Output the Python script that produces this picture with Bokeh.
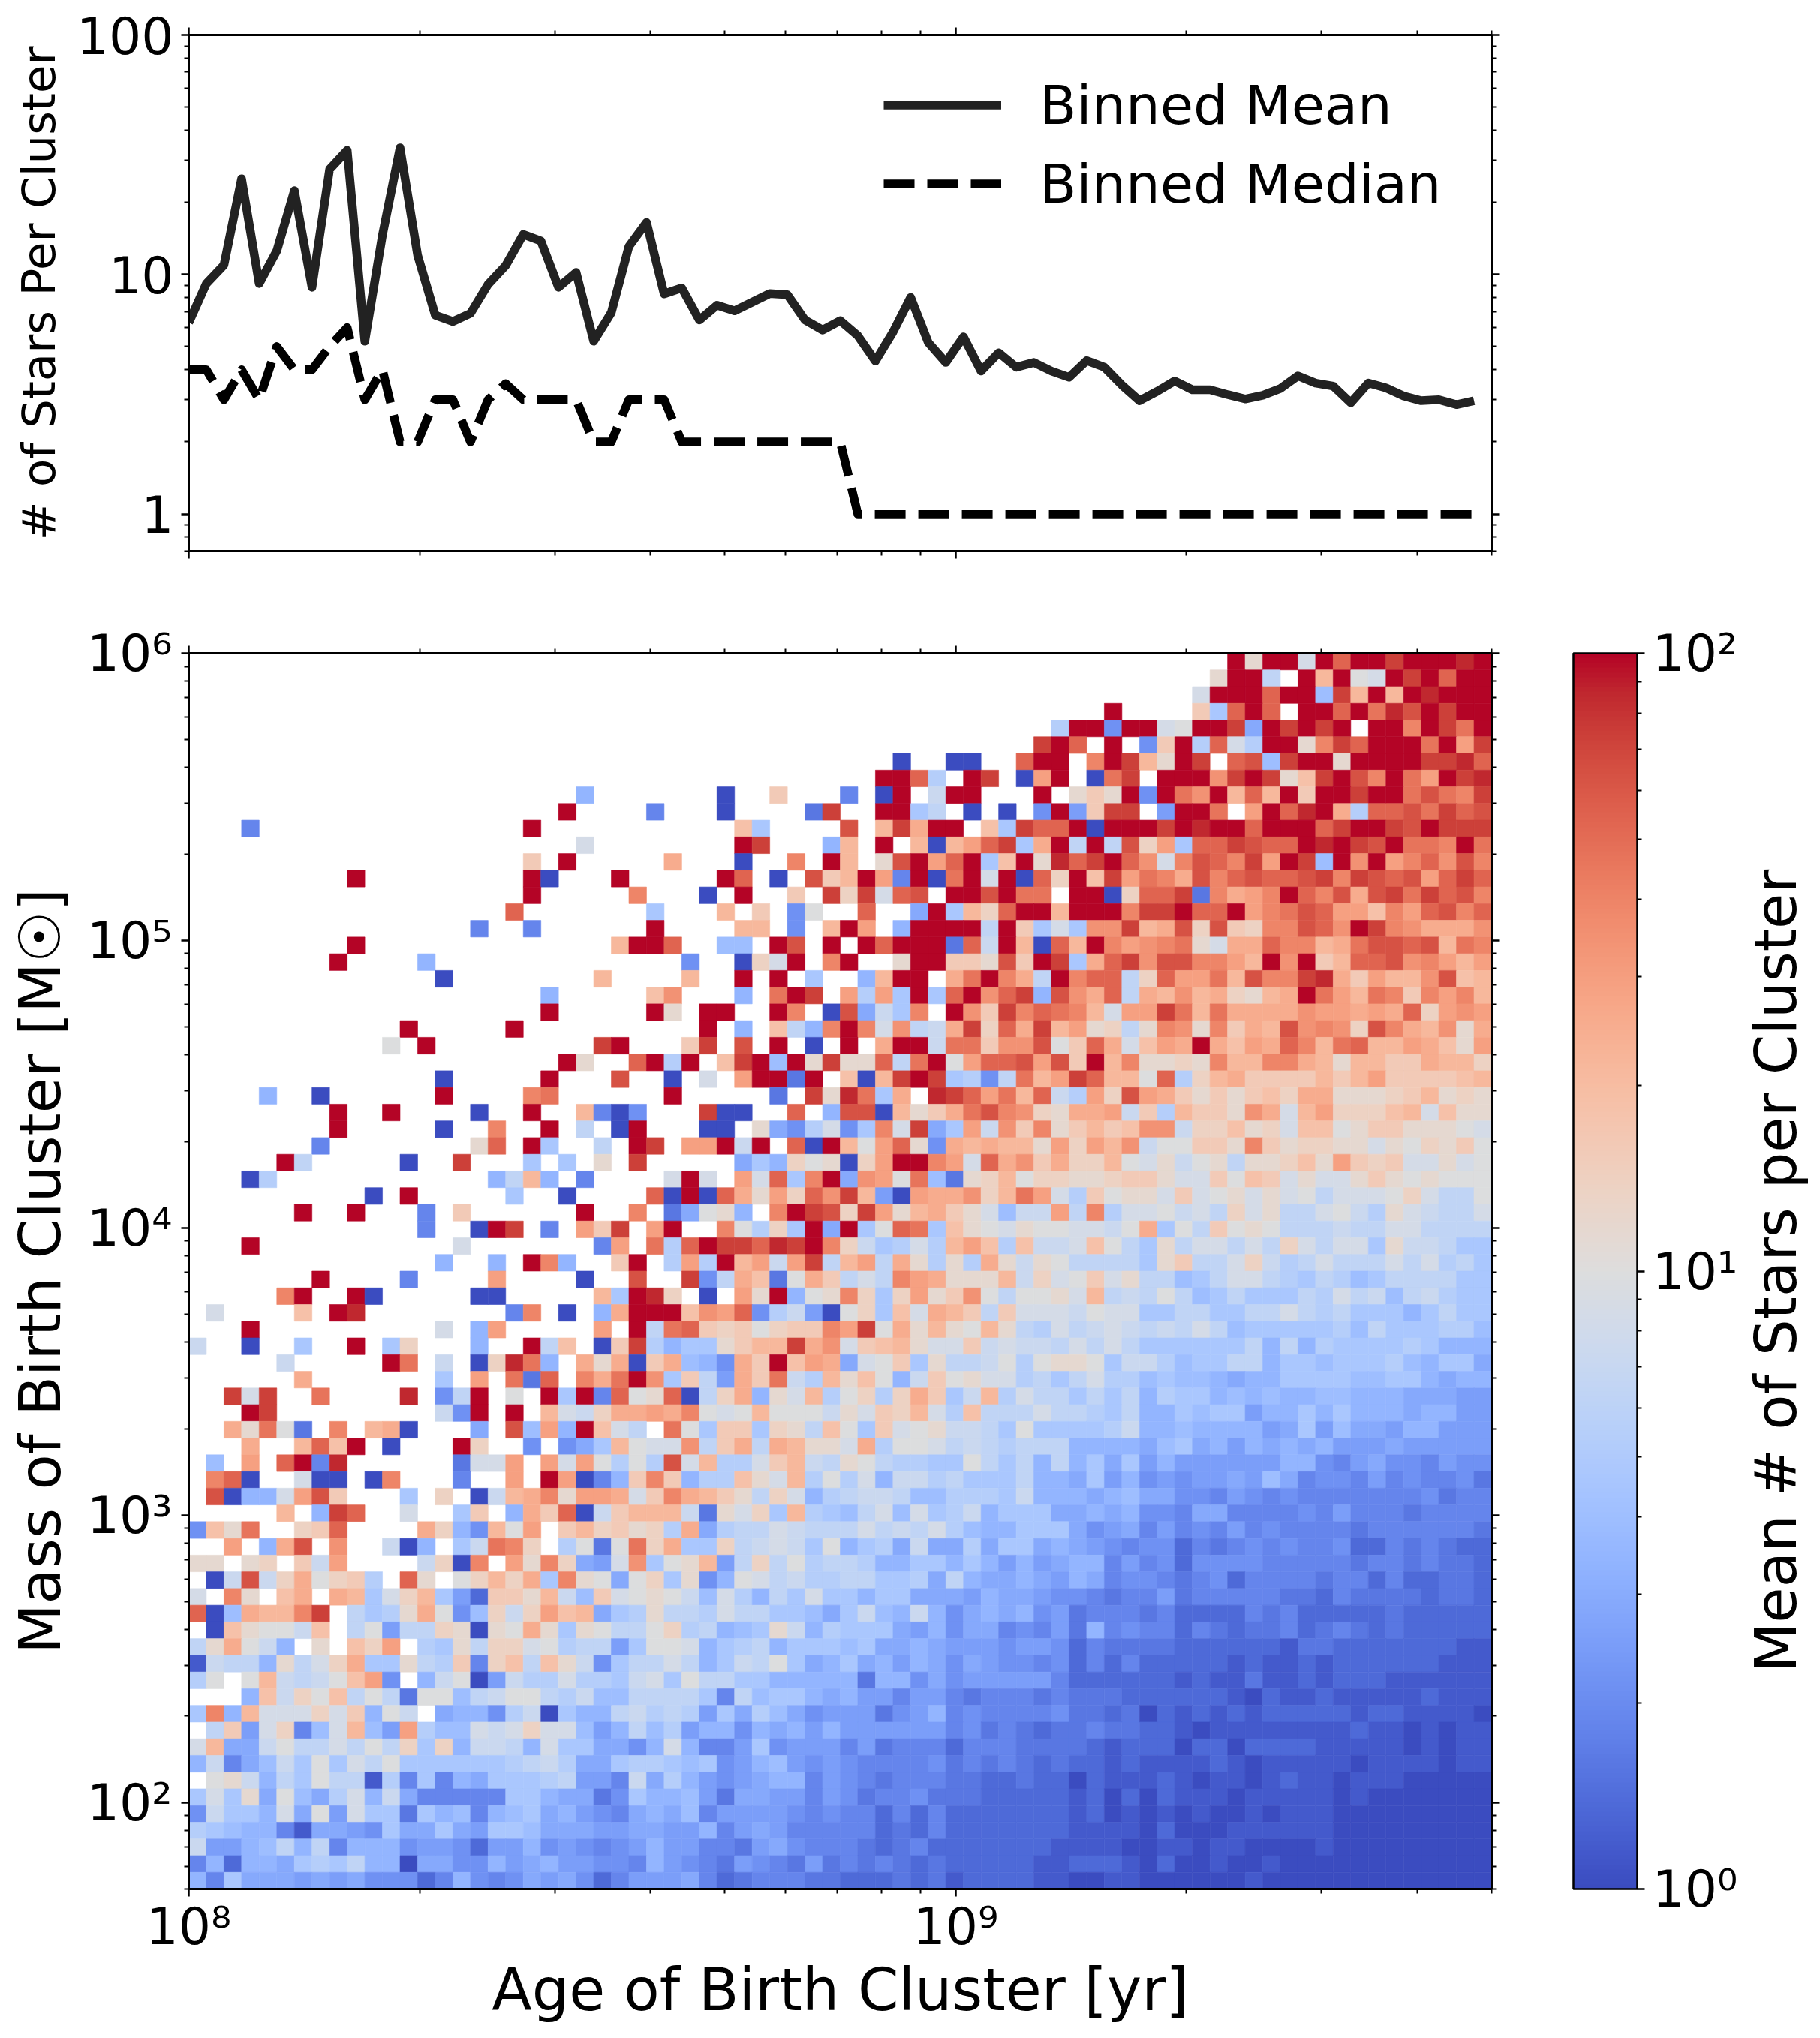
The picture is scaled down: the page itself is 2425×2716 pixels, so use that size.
import numpy as np
from bokeh.core.properties import value
from bokeh.embed import file_html
from bokeh.layouts import column, row
from bokeh.models import (ColorBar, ColumnDataSource, CustomJSTickFormatter, FixedTicker, Legend,
                          LegendItem, LogAxis, LogColorMapper, Range1d)
from bokeh.plotting import figure
from bokeh.resources import INLINE

# binned mean / median number of stars per cluster, one point per age bin
binned_mean = [6.29, 9.16, 10.95, 25.1, 9.16, 12.55, 22.4, 8.84, 27.5, 33.0, 5.26, 14.6, 33.8, 12.0, 6.76, 6.36,
               6.88, 9.09, 10.9, 14.7, 13.8, 8.84, 10.2, 5.26, 6.93, 13.1, 16.5, 8.29, 8.78, 6.45, 7.44, 7.05,
               7.66, 8.32, 8.23, 6.45, 5.86, 6.41, 5.55, 4.35, 5.75, 8.02, 5.20, 4.29, 5.49, 3.95, 4.71, 4.10,
               4.29, 3.95, 3.72, 4.37, 4.10, 3.45, 2.97, 3.25, 3.59, 3.30, 3.30, 3.15, 3.02, 3.13, 3.34, 3.77,
               3.52, 3.42, 2.91, 3.52, 3.36, 3.11, 2.97, 3.00, 2.86, 2.97]
binned_median = [4, 4, 3, 4, 3, 5, 4, 4, 5, 6, 3, 4, 2, 2, 3, 3, 2, 3, 3.5, 3, 3, 3, 3, 2, 2, 3, 3, 3,
                 2, 2, 2, 2, 2, 2, 2, 2, 2, 2,
                 1, 1, 1, 1, 1, 1, 1, 1, 1, 1, 1, 1, 1, 1, 1, 1, 1, 1, 1, 1, 1, 1, 1, 1, 1, 1, 1, 1, 1, 1, 1, 1, 1, 1, 1, 1]

# heatmap cells, top row first, "." is an empty bin, other characters are steps of log10(mean stars)
cell_levels = "0123456789abcdefghijklmnopqrstu"
left_cols = [
    "", "", "", "", "", "", "", "",
    "......................8",
    ".....................u",
    "...4...............u",
    "......................e",
    "...................i.u",
    ".........u.........u0...u",
    "...................u",
    "..................q",
    "................4..4",
    ".........u..............k",
    "........u....8",
    "..............0........k",
    "....................8",
    "....................u",
    "............u.....u",
    "...........f.u.........su",
    ".....................ug",
    "..............0.....u...r",
    "....8..0......u....op....",
    "........u..u....0..u..k40",
    "........u.....0..o..u.c.0",
    ".......4........gq.ua..c.",
    ".....uc.....0..s...a.a.g.",
    "...0b............8ck8.4..",
    "..........0.u.....a..0...",
    "......u..u...4.i......u..",
    ".............4..0us.4.mis",
    "...u...........e.......4m",
    "..............8..8.uo8..i",
    ".......u....4....m....0..",
    ".....ou..u0.....00.....ka",
    ".e....j.ut........4o.0.8l",
    "...u..........e.8m.....m.",
    "d..0..a..u.ah...8..ucj.0i",
    ".....d.....up.d.0htp8.lgl",
    "......l.......a.m.p3q.olp",
    "..ses..p....t.5cu.f.uau4q",
    "...us.........d5u.u.kedhl",
    "..lgpf3.o.kl0...7.r9m8uje",
    "...l..kqju.0...uh..5.57ak",
    ".9.m.qu4t......3eem.memfb",
    ".oq0..e00.0o...4..m.um048",
    ".r088emri...a.h.0dklogmml",
    ".....k.8sq..e..ai.8liq0di",
    "5jgp..hiq....lh85kfm.ikhi",
    "..m.8lr.n..d08.adpoh.bf3f",
    "gg.gh.idm....dh0o.mgoh76e",
    ".0drdhlfhib.qg.fhkhlaogf7",
    "e.og.jl.lkaehka62iigkd9ie",
    "q09lkkos.cabglf59hdhmjk7a",
    ".0jgffdj.cf6cchg0gflgagfc",
    "cglfd8.g.jhm.bagchhefbcc6",
    "1dcc8gcehlaagcbi4hjcjgd5a",
    "bf.fkdcdfjm5.8df06dbbebba",
    "...8jdhfjcfc3ff9cdffcbd99",
    "ao8keeehei8fd.7885bd0a88c",
    ".ci6eh49ek96mb99edehee968",
    "ek77dfccecfchah8ddc8eaa77",
    "8d479dafaecfaaaaaabcdb77a",
    ".fgd8cafcc1b4a487aaabc664",
    "aeag7f97be8d744444aa87735",
    "5daa8e7f6eaa3a89489a78654",
    "ba988417765a77a76aa977766",
    "d6689c8c488856652668" + "56545",
    "482887abac8807755867" + "86655",
    "84a7776767555248545" + "7" + "67524",
]
mid_cols = [
    "", "", "", "", "",
    ".......................s",
    "...............0..00..qu",
    "..............uuqb.us.0m",
    ".....0..i...4.0u.duu...u",
    ".4...0....3s..uuac.0.0.5",
    "......ja....r.ksluu.jasq",
    "......us...8k.u.k0kmqsal",
    "..l...0..o.uk.grumquajug",
    ".....uq.0.rikum4u0pueu0q",
    "o...0.u..i.shseqr.uurupp",
    ".a...k.i.5f..q..7uakhquu",
    ".u....kk.5.kum.8uuuucuia",
    "uuq..99.ur.u.uquuu3qduk0",
    "...5..0heu.ou..guuiigriu",
    "...k..u.u.a..8kuu.lpuolc",
    ".jn...8.pus.mbmauaqunqs8",
    ".ug.uu..uo.0r7dao.unisoq",
    "....u.8.jc8ouoencdlshqls",
    "...is.r.u.0.u.luudppinnr",
    "qubu.jsu9ugsggqcpufmqqrm",
    "..0.e.muu3u.j0ksusab5cpk",
    "..u.....3.sgtpal.tsqmpkq",
    "5...s00..q.8rr0kgilpronh",
    "u...00.g75be5aoes7amdnio",
    "us.mmudu.q0ukfmqg5lklkkg",
    "s.....7a8hfg0hmuuomeqlni",
    "..eue.meqaou7nmfp93ghkfh",
    ".q0u0qlgmhqnsk60mllnhkpm",
    "o.37fg8.ousrhsmgklige9dd",
    ".mu..ofbhau7uafqpajgfegf",
    ".pbqussqtsuohdabebkmjbjd",
    "u.bmbukmdmsckmclgbgblgdg",
    "r..s5clj3flicecomlgggkdh",
    "uth.0.mgu8fgohahmginfcff",
    "uuujnmq5bd60fhajelkiciee",
    "ucpqihifhiiomsflgkgfkgcb",
    "sb8aagikkslneijkgeeidedd",
    "0il985liujml7efiagccdfbf",
    "unaic6lipdbkgjf8difgeebc",
    "fgq0chl8gekbfhbhliadkbec",
    "lmlofefkfffdgeihkebjccce",
    "c.pfaiiahgcjfaiefgddcafa",
    "feencilclkggelbffecdcbcc",
    "fbrekbbeikdcgfcbbaafcac8",
    "ioi8bbjgekbfbe8ddbcaaac8",
    "eiolkigche8bcddc99bbbad8",
    "kkkd3gehakba9ce9eabd8aaa",
    "ghbl7bccedcccecdceb988aa",
    "phlaahcdedaf8ab7d77b7aa7",
    "nafgk6chcfbccb88aa8a8686",
    "fhag58fecdbbccaab7c87787",
    "fgfd9eb8caeaa8aa77768776",
    "bgccbeccaa97ad98d8578785",
    "cfhbc89agd8baaa768577454",
    "affe8abc8aaa9a7787666566",
    "ccec8adcfa78a78687576554",
    "deafccaa8888838857566666",
    "cccca4c9aa87866466434443",
    "dbcb6a7b9756663568454444",
    "c9b688587868666666453432",
    "58e8446a5666463444244433",
    "bba9a5689656544445343432",
    "d7b865678846543444332232",
    "a88963776646534453332222",
    "787946666545442424222222",
    "776684676444442324222222",
    "686644367544432342222222",
    "486543654363434323222221",
    "666742344433222323122221",
]
right_cols = [
    "..........uguueuquusuuutu",
    ".........guuc.ukufeusuquu",
    "........euuuquu9skukutuuu",
    "...u....iaquq.uuquptrusuu",
    "buu5uuefuus7ususu.uuouspu",
    "uq.u.5iubqebuugosquuupums",
    "u.ouskgus.qr9suuguuuusstq",
    "u.0ps.uuunsusgjsuroupmust",
    ".gigu5upnukqkuiuusuuprpos",
    "u6iss.6uup.muqtulbqqrpsqr",
    "qu0uuusutuuquuuqsuusrusss",
    "ucucrhmaqqsrqqutusruppoup",
    "tqsuqneorqosmus9unumoqnro",
    "hujsmpolroqrqqrsosrqrmqsq",
    ".uu0hqqs3olmouqorlrspsqro",
    "kuuuossuqqumoprqmmjomqroq",
    "eannsklrhrihoorqnusonllln",
    "qkuomnopgellqooklprrqrkpo",
    "salqsnrroomkunuikqqrnomkm",
    "uoqqchqmmpkroostlimkknrjk",
    "rnlqclknklhgklupmkpoiomok",
    "pokemmspkpllllnmmlmlqhmnm",
    "kmghcgongoilkrnonhrolkngl",
    "fiqlejmluljmlqokpqkkmljgm",
    "riukogghgokkoolkgkkiilkkh",
    "msqkkfqbhkliiiikikmiiiijk",
    "dbmhrmligigijhllggghikghg",
    "gllmdibkiignlekmhhhjkejgg",
    "gikijnndhhjghejjfgiigggfe",
    "mhmkndffiigoighhggegfhgif",
    "lhhkfegdfgcgghjgmihieegef",
    "hgghiigeeifjiegeegigfgfff",
    "ebifggeiefgegefceeefheccf",
    "mcobeefdechegccefdbgedcce",
    "feedflafcifgfcccdcceecccc",
    "dejfcagceececheceeagddcaa",
    "fccccagiccehdbceccce" + "cebca",
    "efieg" + "cc9ac" + "eecba" + "cb9ac" + "cccaa",
    "gekcd" + "cfc9a" + "caaac" + "becd9" + "cdbaa",
    "edfee" + "aacca" + "accec" + "bcaaa" + "8acaa",
    "ecded" + "cdcec" + "9aaaa" + "ab9ca" + "aabb9",
    "cecec" + "aaaaa" + "ac8c8" + "baaaa" + "ba888",
    "ggfad" + "db9aa" + "cc8aa" + "9aaab" + "98aa7",
    "acebb" + "9a998" + "788aa" + "aa99a" + "a8788",
    "cacac" + "8baa8" + "98988" + "99888" + "77766",
    "ccbac" + "88a9a" + "a688a" + "8a888" + "78866",
    "aaabd" + "88988" + "8867a" + "69776" + "88666",
    "c8888" + "79a78" + "68787" + "86667" + "66666",
    "c8a7a" + "68666" + "66688" + "54675" + "54655",
    "87a68" + "56566" + "76974" + "55464" + "54453",
    "88789" + "77554" + "65454" + "44444" + "45344",
    "77878" + "55477" + "44445" + "46444" + "34444",
    "a7567" + "46454" + "64544" + "44344" + "44443",
    "87654" + "55243" + "45454" + "45224" + "34322",
    "78846" + "45255" + "55444" + "44344" + "34332",
    "68745" + "54345" + "24444" + "34424" + "22332",
    "55434" + "46344" + "44433" + "24333" + "32332",
    "63444" + "34222" + "24342" + "22223" + "22222",
    "63845" + "44243" + "23342" + "34323" + "22222",
    "52433" + "33222" + "22213" + "32222" + "22211",
    "52424" + "22222" + "12112" + "12222" + "22111",
    "42222" + "22121" + "13112" + "12221" + "11111",
    "43332" + "22222" + "10211" + "21111" + "12111",
    "53323" + "02121" + "21222" + "22122" + "11110",
    "33433" + "22101" + "11111" + "11211" + "01011",
    "33212" + "22022" + "02222" + "11111" + "01011",
    "32212" + "11112" + "10111" + "11011" + "11011",
    "20211" + "12101" + "10121" + "10111" + "00000",
    "21202" + "02111" + "01111" + "10100" + "00000",
    "21201" + "01010" + "01011" + "10000" + "00000",
    "21111" + "02000" + "11111" + "10000" + "00000",
    "11110" + "01101" + "10000" + "10000" + "00000",
    "12221" + "02001" + "00100" + "00000" + "00000",
    "10011" + "00000" + "01000" + "00000" + "00000",
]

x_major = [1e8, 1e9]
x_minor = [2e8, 3e8, 4e8, 5e8, 6e8, 7e8, 8e8, 9e8, 2e9, 3e9, 4e9, 5e9]
top_y_major = [1, 10, 100]
top_y_minor = [0.7, 0.8, 0.9, 2, 3, 4, 5, 6, 7, 8, 9, 20, 30, 40, 50, 60, 70, 80, 90]
main_y_major = [1e2, 1e3, 1e4, 1e5, 1e6]
main_y_minor = [k * 10.0 ** d for d in range(1, 6) for k in range(2, 10) if k * 10.0 ** d >= 50]
cbar_major = [1, 10, 100]
cbar_minor = [2, 3, 4, 5, 6, 7, 8, 9, 20, 30, 40, 50, 60, 70, 80, 90]

# matplotlib's coolwarm
coolwarm = [(59, 76, 192), (68, 90, 204), (77, 104, 215), (87, 117, 225), (98, 130, 234), (108, 142, 241),
            (119, 154, 247), (130, 165, 251), (141, 176, 254), (152, 185, 255), (163, 194, 255), (174, 201, 253),
            (184, 208, 249), (194, 213, 244), (204, 217, 238), (213, 219, 230), (221, 221, 221), (229, 216, 209),
            (236, 211, 197), (241, 204, 185), (245, 196, 173), (247, 187, 160), (247, 177, 148), (247, 166, 135),
            (244, 154, 123), (241, 141, 111), (236, 127, 99), (229, 112, 88), (222, 96, 77), (213, 80, 66),
            (203, 62, 56), (192, 40, 47), (180, 4, 38)]
stops = np.array(coolwarm, dtype=float)
grid = np.linspace(0, 32, 256)
palette = ["#%02x%02x%02x" % tuple(int(round(np.interp(g, np.arange(33), stops[:, i]))) for i in range(3)) for g in grid]

FONT = "DejaVu Sans"
N_BINS = 74
age_edges = np.logspace(8, np.log10(5e9), N_BINS + 1)
mass_edges = np.logspace(np.log10(50), 6, N_BINS + 1)

left, right, bottom, top_edge, stars = [], [], [], [], []
for r in range(N_BINS):
    cells = left_cols[r].ljust(25, ".")[:25] + mid_cols[r].ljust(24, ".")[:24] + right_cols[r].ljust(25, ".")[:25]
    j = N_BINS - 1 - r
    for c, ch in enumerate(cells):
        if ch == ".":
            continue
        left.append(age_edges[c])
        right.append(age_edges[c + 1])
        bottom.append(mass_edges[j])
        top_edge.append(mass_edges[j + 1])
        stars.append(10 ** (2 * cell_levels.index(ch) / 30))

power_fmt = CustomJSTickFormatter(code="""
const sup = ['\u2070', '\u00b9', '\u00b2', '\u00b3', '\u2074', '\u2075', '\u2076', '\u2077', '\u2078', '\u2079'];
return '10' + sup[Math.round(Math.log10(tick))];
""")
plain_fmt = CustomJSTickFormatter(code="return String(Math.round(tick));")
no_label_fmt = CustomJSTickFormatter(code="return '';")


def style_axis(axis, show_labels=True):
    axis.axis_line_color = "black"
    axis.axis_line_width = 3
    axis.major_tick_line_color = "black"
    axis.major_tick_line_width = 2.5
    axis.minor_tick_line_color = "black"
    axis.minor_tick_line_width = 2
    axis.major_tick_out = 10
    axis.major_tick_in = 0
    axis.minor_tick_out = 6
    axis.minor_tick_in = 0
    axis.major_label_text_font = FONT
    axis.major_label_text_font_size = "68px" if show_labels else "2px"
    axis.major_label_text_color = "black"
    axis.axis_label_text_font = FONT
    axis.axis_label_text_font_style = "normal"
    axis.axis_label_text_color = "black"
    if not show_labels:
        axis.formatter = no_label_fmt
        axis.major_label_standoff = 0


def add_side_axes(fig, xticks, yticks, right_gap=0):
    above = LogAxis(ticker=xticks)
    style_axis(above, False)
    fig.add_layout(above, "above")
    side = LogAxis(ticker=yticks)
    style_axis(side, False)
    if right_gap:
        # blank label, only there to hold the colorbar away from the frame
        side.axis_label = "\u00a0"
        side.axis_label_text_font_size = "40px"
        side.axis_label_standoff = right_gap
    fig.add_layout(side, "right")


# upper panel
top = figure(x_axis_type="log", y_axis_type="log", x_range=Range1d(1e8, 5e9), y_range=Range1d(0.7, 100),
             frame_width=1736, frame_height=688, min_border_left=251, min_border_top=46, min_border_bottom=40,
             min_border_right=40, output_backend="svg", toolbar_location=None)
top.grid.visible = False
top.outline_line_color = "black"
top.outline_line_width = 2.5
top_xticks = FixedTicker(ticks=x_major, minor_ticks=x_minor)
top_yticks = FixedTicker(ticks=top_y_major, minor_ticks=top_y_minor)
top.xaxis.ticker = top_xticks
top.yaxis.ticker = top_yticks
style_axis(top.xaxis[0], False)
style_axis(top.yaxis[0])
top.yaxis[0].formatter = plain_fmt
top.yaxis[0].major_label_standoff = 10
top.yaxis[0].axis_label = "# of Stars Per Cluster"
top.yaxis[0].axis_label_text_font_size = "61px"
top.yaxis[0].axis_label_standoff = 12
add_side_axes(top, top_xticks, top_yticks)

bin_age = age_edges[:-1]
mean_line = top.line(bin_age, binned_mean, line_color="#222222", line_width=11.5, line_join="round")
median_line = top.line(bin_age, binned_median, line_color="black", line_width=11.5, line_dash="41 17", line_join="round")
legend = Legend(items=[LegendItem(label=value("Binned Mean"), renderers=[mean_line]),
                       LegendItem(label=value("Binned Median"), renderers=[median_line])],
                location=(926, 447), border_line_color=None, background_fill_color=None, margin=0, padding=0,
                spacing=20, glyph_width=157, glyph_height=85, label_height=85, label_standoff=51,
                label_text_font=FONT, label_text_font_size="72px", label_text_color="black")
top.add_layout(legend, "center")

# main panel
mapper = LogColorMapper(palette=palette, low=1, high=100)
source = ColumnDataSource(dict(left=left, right=right, bottom=bottom, top=top_edge, stars=stars))
p = figure(x_axis_type="log", y_axis_type="log", x_range=Range1d(1e8, 5e9), y_range=Range1d(50, 1e6),
           frame_width=1736, frame_height=1647, min_border_left=251, min_border_top=96, min_border_bottom=190,
           min_border_right=330, output_backend="svg", toolbar_location=None)
p.grid.visible = False
p.outline_line_color = "black"
p.outline_line_width = 2.5
p.quad(left="left", right="right", bottom="bottom", top="top", source=source,
       fill_color={"field": "stars", "transform": mapper},
       line_color={"field": "stars", "transform": mapper}, line_width=0.6)

main_xticks = FixedTicker(ticks=x_major, minor_ticks=x_minor)
main_yticks = FixedTicker(ticks=main_y_major, minor_ticks=main_y_minor)
p.xaxis.ticker = main_xticks
p.yaxis.ticker = main_yticks
style_axis(p.xaxis[0])
style_axis(p.yaxis[0])
p.xaxis[0].formatter = power_fmt
p.yaxis[0].formatter = power_fmt
p.xaxis[0].major_label_standoff = 0
p.yaxis[0].major_label_standoff = 12
p.xaxis[0].axis_label = "Age of Birth Cluster [yr]"
p.xaxis[0].axis_label_text_font_size = "78px"
p.xaxis[0].axis_label_standoff = -3
p.yaxis[0].axis_label = "Mass of Birth Cluster [M\u2609]"
p.yaxis[0].axis_label_text_font_size = "77px"
p.yaxis[0].axis_label_standoff = 15
add_side_axes(p, main_xticks, main_yticks, right_gap=50)

cbar = ColorBar(color_mapper=mapper, ticker=FixedTicker(ticks=cbar_major, minor_ticks=cbar_minor), formatter=power_fmt,
                width=85, margin=0, padding=0, bar_line_color="black", bar_line_width=2.5,
                major_tick_line_color="black", major_tick_line_width=2.5, major_tick_in=0, major_tick_out=10,
                minor_tick_line_color="black", minor_tick_line_width=2, minor_tick_in=0, minor_tick_out=6,
                label_standoff=10, major_label_text_font=FONT, major_label_text_font_size="68px",
                major_label_text_color="black")
p.add_layout(cbar, "right")

# colorbar title sits on the left axis of a thin empty figure next to the main panel
cbar_title = figure(x_range=Range1d(0, 1), y_range=Range1d(0, 1), frame_width=1, frame_height=1647,
                    min_border_left=0, min_border_right=0, min_border_top=870, min_border_bottom=190,
                    output_backend="svg", toolbar_location=None)
cbar_title.grid.visible = False
cbar_title.outline_line_color = None
cbar_title.xaxis.visible = False
title_axis = cbar_title.yaxis[0]
title_axis.ticker = FixedTicker(ticks=[])
title_axis.axis_line_color = None
title_axis.major_tick_line_color = None
title_axis.minor_tick_line_color = None
title_axis.major_label_text_font_size = "2px"
title_axis.axis_label = "Mean # of Stars per Cluster"
title_axis.axis_label_text_font = FONT
title_axis.axis_label_text_font_size = "77px"
title_axis.axis_label_text_font_style = "normal"
title_axis.axis_label_text_color = "black"
title_axis.axis_label_standoff = 0

layout = row(column(top, p, spacing=0), cbar_title, spacing=0)
open("out.html", "w").write(file_html(layout, INLINE))
